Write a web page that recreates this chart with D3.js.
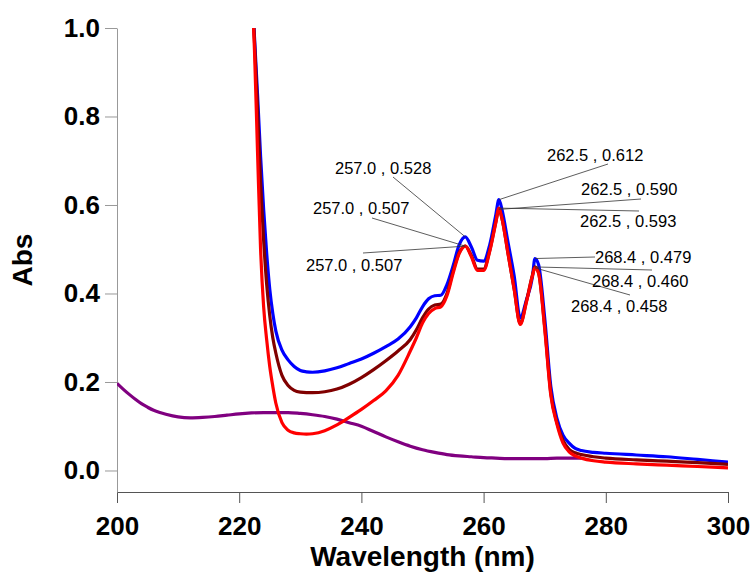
<!DOCTYPE html>
<html>
<head>
<meta charset="utf-8">
<script src="https://cdn.jsdelivr.net/npm/d3@7"></script>
<style>
  body { margin: 0; background: #fff; }
  text { font-family: "Liberation Sans", Arial, sans-serif; }
</style>
</head>
<body>
<div id="spectrum"></div>
<script>
// UV absorbance spectra

// wavelength grid shared by the three sample curves
const wavelengths = [222, 222.5, 223, 223.5, 224, 224.5, 225, 225.5, 226, 227, 228, 229, 230, 231, 232,
    234, 236, 238, 240, 242, 244, 246, 248, 249, 250, 251, 252, 253, 254, 255, 256, 257, 258, 259, 260,
    261, 262, 262.5, 263, 264, 265, 266, 267, 268, 268.4, 269, 270, 271, 272, 273, 274, 275, 276, 278,
    280, 285, 290, 295, 300];

const blueAbs = [1.12, 0.98, 0.85, 0.71, 0.59, 0.49, 0.41, 0.355, 0.315, 0.272, 0.25, 0.235, 0.226, 0.223, 0.222,
    0.225, 0.232, 0.242, 0.252, 0.265, 0.28, 0.297, 0.325, 0.345, 0.37, 0.388, 0.395, 0.396, 0.42, 0.462, 0.51, 0.528, 0.505, 0.475, 0.473,
    0.51, 0.578, 0.612, 0.59, 0.515, 0.44, 0.345, 0.385, 0.438, 0.479, 0.465, 0.345, 0.19, 0.118, 0.08, 0.062, 0.05, 0.045, 0.041,
    0.039, 0.035, 0.031, 0.025, 0.019];

const darkRedAbs = [1.12, 0.97, 0.82, 0.65, 0.52, 0.42, 0.35, 0.30, 0.265, 0.215, 0.192, 0.181, 0.177, 0.176, 0.176,
    0.178, 0.184, 0.195, 0.21, 0.228, 0.248, 0.27, 0.296, 0.318, 0.345, 0.365, 0.374, 0.376, 0.40, 0.45, 0.492, 0.507, 0.486, 0.455, 0.455,
    0.497, 0.562, 0.590, 0.57, 0.49, 0.41, 0.332, 0.382, 0.442, 0.460, 0.447, 0.325, 0.175, 0.108, 0.068, 0.048, 0.04, 0.036, 0.031,
    0.028, 0.024, 0.021, 0.018, 0.014];

const redAbs = [1.1, 0.95, 0.72, 0.5, 0.37, 0.295, 0.235, 0.19, 0.152, 0.108, 0.091, 0.085, 0.083, 0.082, 0.083,
    0.09, 0.103, 0.12, 0.138, 0.158, 0.18, 0.215, 0.27, 0.30, 0.333, 0.355, 0.366, 0.37, 0.395, 0.445, 0.49, 0.507, 0.483, 0.452, 0.452,
    0.495, 0.56, 0.593, 0.57, 0.49, 0.41, 0.33, 0.38, 0.44, 0.458, 0.445, 0.32, 0.17, 0.105, 0.062, 0.042, 0.033, 0.028, 0.022,
    0.019, 0.015, 0.012, 0.009, 0.006];

// reference (purple) curve has its own grid
const purpleWl = [200, 201, 202, 203, 204, 205, 206, 207, 208, 210, 212, 214, 216, 218, 220, 222, 224, 226, 228, 230,
    232, 234, 236, 238, 240, 242, 244, 246, 248, 250, 252, 254, 256, 258, 260, 262, 264, 266, 268, 270, 272, 274, 276];
const purpleAbs = [0.197, 0.184, 0.172, 0.161, 0.151, 0.143, 0.136, 0.131, 0.127, 0.121, 0.119, 0.12, 0.122, 0.125, 0.128, 0.13, 0.131, 0.131, 0.131, 0.129,
    0.126, 0.122, 0.116, 0.108, 0.1, 0.088, 0.076, 0.065, 0.055, 0.047, 0.041, 0.036, 0.033, 0.031, 0.029, 0.028, 0.027, 0.027, 0.027, 0.027, 0.028, 0.028, 0.028];

// peak pick labels
const peakWl = [257.0, 257.0, 257.0, 262.5, 262.5, 262.5, 268.4, 268.4, 268.4];
const peakAbs = [0.528, 0.507, 0.507, 0.612, 0.590, 0.593, 0.479, 0.460, 0.458];

const xTicks = [200, 220, 240, 260, 280, 300];
const yTicks = [0.0, 0.2, 0.4, 0.6, 0.8, 1.0];

// where the peak labels sit (text anchor, leader line start), in pixels
const labelAt = [[335, 174], [313, 214], [306, 271], [547, 161], [581, 195], [580, 227], [595, 263], [592, 287], [571, 312]];
const leaderFrom = [[393, 177], [372, 218], [363, 253], [608, 164], [641, 199], [639, 211], [595, 257], [652, 270], [630, 295]];

const chartWidth = 754;
const chartHeight = 573;
var margin = {top: 28, right: 26, bottom: 81, left: 117},
width = chartWidth - margin.left - margin.right,
height = chartHeight - margin.top - margin.bottom;

var svg = d3.select("#spectrum")
  .append("svg")
    .attr("width", chartWidth)
    .attr("height", chartHeight)
  .append("g")
    .attr("transform", "translate(" + margin.left + "," + margin.top + ")");

var x = d3.scaleLinear()
    .domain([200, 300])
    .range([0, width]);

var y = d3.scaleLinear()
    .domain([-0.0486, 1.0])
    .range([height, 0]);

// axes
var xAxis = svg.append("g")
    .attr("transform", "translate(0," + height + ")")
    .call(d3.axisBottom(x).tickValues(xTicks).tickSize(11).tickSizeOuter(0).tickPadding(14).tickFormat(d3.format("d")));
xAxis.selectAll("path, line").attr("stroke", "#555");

var yAxis = svg.append("g")
    .call(d3.axisLeft(y).tickValues(yTicks).tickSize(12).tickSizeOuter(0).tickPadding(5).tickFormat(d3.format(".1f")));
yAxis.selectAll("path, line").attr("stroke", "#999");

svg.selectAll(".tick text")
    .attr("fill", "#000")
    .style("font-size", "26px")
    .style("font-weight", "bold");

// axis titles
svg.append("text")
    .attr("x", width / 2)
    .attr("y", 538)
    .attr("text-anchor", "middle")
    .style("font-size", "28px")
    .style("font-weight", "bold")
    .text("Wavelength (nm)");

svg.append("text")
    .attr("transform", "translate(" + (32 - margin.left) + "," + (260 - margin.top) + ") rotate(-90)")
    .attr("text-anchor", "middle")
    .style("font-size", "28px")
    .style("font-weight", "bold")
    .text("Abs");

// curves, clipped to the plot box
svg.append("clipPath")
    .attr("id", "plotclip")
  .append("rect")
    .attr("width", width)
    .attr("height", height);

var line = d3.line()
    .x(d => x(d[0]))
    .y(d => y(d[1]))
    .curve(d3.curveMonotoneX);

var series = [
    {color: "#800080", pts: d3.zip(purpleWl, purpleAbs)},
    {color: "#0000ff", pts: d3.zip(wavelengths, blueAbs)},
    {color: "#800000", pts: d3.zip(wavelengths, darkRedAbs)},
    {color: "#ff0000", pts: d3.zip(wavelengths, redAbs)}
];

svg.append("g")
    .attr("clip-path", "url(#plotclip)")
  .selectAll("path")
  .data(series)
  .enter()
  .append("path")
    .attr("d", d => line(d.pts))
    .attr("fill", "none")
    .attr("stroke", d => d.color)
    .attr("stroke-width", 3.2)
    .attr("stroke-linejoin", "round");

// peak labels with leader lines
var peaks = d3.zip(peakWl, peakAbs);

svg.selectAll("leaders")
  .data(peaks)
  .enter()
  .append("line")
    .attr("x1", (d, i) => leaderFrom[i][0] - margin.left)
    .attr("y1", (d, i) => leaderFrom[i][1] - margin.top)
    .attr("x2", d => x(d[0]))
    .attr("y2", d => y(d[1]))
    .attr("stroke", "#333")
    .attr("stroke-width", 0.8);

svg.selectAll("peakLabels")
  .data(peaks)
  .enter()
  .append("text")
    .attr("x", (d, i) => labelAt[i][0] - margin.left)
    .attr("y", (d, i) => labelAt[i][1] - margin.top)
    .style("font-size", "16.5px")
    .attr("fill", "#000")
    .text(d => d[0].toFixed(1) + " , " + d[1].toFixed(3));
</script>
</body>
</html>
